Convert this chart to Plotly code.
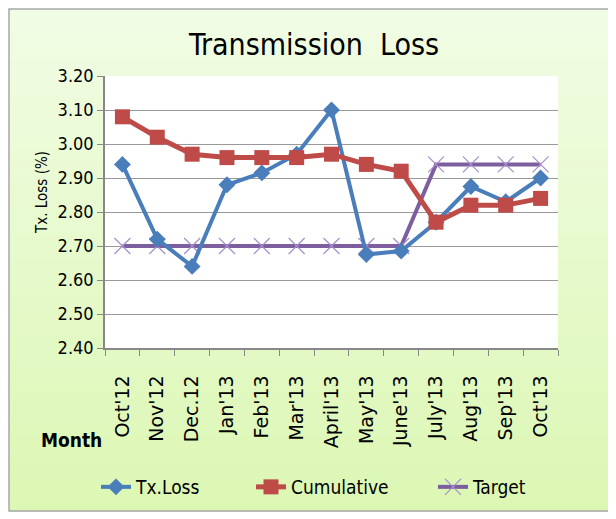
import plotly.graph_objects as go

months = ["Oct'12", "Nov'12", "Dec.12", "Jan'13", "Feb'13", "Mar'13", "April'13",
          "May'13", "June'13", "July'13", "Aug'13", "Sep'13", "Oct'13"]
tx_loss = [2.94, 2.72, 2.64, 2.88, 2.915, 2.97, 3.10, 2.675, 2.685, 2.77, 2.875, 2.83, 2.90]
cumulative = [3.08, 3.02, 2.97, 2.96, 2.96, 2.96, 2.97, 2.94, 2.92, 2.77, 2.82, 2.82, 2.84]
target = [2.70, 2.70, 2.70, 2.70, 2.70, 2.70, 2.70, 2.70, 2.70, 2.94, 2.94, 2.94, 2.94]
y_ticks = [2.40, 2.50, 2.60, 2.70, 2.80, 2.90, 3.00, 3.10, 3.20]

COND = "DejaVu Sans Condensed, Liberation Sans Narrow, sans-serif"
WIDE = "DejaVu Sans, Verdana, sans-serif"

W, H = 616, 519
OFF = 8  # page body margin: figure is drawn 8px right/down in the window

# plot area in window pixels
L, R, T, B = 105, 558, 76, 348
PW, PH = R - L, B - T


def px(x):
    return (x - L) / PW


def py(y):
    return (B - y) / PH


fig = go.Figure()
fig.add_trace(go.Scatter(
    x=months, y=target, name="Target", mode="lines+markers", legend="legend3",
    line=dict(color="#7d5fa0", width=4),
    marker=dict(symbol="x-thin", size=16, line=dict(color="#a48fcc", width=1.2))))
fig.add_trace(go.Scatter(
    x=months, y=tx_loss, name="Tx.Loss", mode="lines+markers", legend="legend",
    line=dict(color="#4a7ebb", width=4),
    marker=dict(symbol="diamond", size=13, color="#4a7ebb")))
fig.add_trace(go.Scatter(
    x=months, y=cumulative, name="Cumulative", mode="lines+markers", legend="legend2",
    line=dict(color="#be4b48", width=5),
    marker=dict(symbol="square", size=15, color="#be4b48")))

# gradient background (inside the outer frame) via stacked bands
FX0, FX1, FY0, FY1 = 9, 610, 9, 511
shapes = []
n = 40
top = (241, 252, 228)
bot = (220, 247, 180)
for i in range(n):
    t = i / (n - 1)
    c = tuple(int(round(top[k] + (bot[k] - top[k]) * t)) for k in range(3))
    ya = FY0 + (FY1 - FY0) * i / n
    yb = FY0 + (FY1 - FY0) * (i + 1) / n
    shapes.append(dict(type="rect", xref="paper", yref="paper", layer="below",
                       x0=px(FX0), x1=px(FX1), y0=py(yb + 0.5), y1=py(ya),
                       fillcolor="rgb(%d,%d,%d)" % c, line=dict(width=0)))
shapes.append(dict(type="rect", xref="paper", yref="paper", layer="below",
                   x0=0, x1=1, y0=0, y1=1, fillcolor="white", line=dict(width=0)))
shapes.append(dict(type="rect", xref="paper", yref="paper", layer="above",
                   x0=px(FX0), x1=px(FX1), y0=py(FY1), y1=py(FY0),
                   line=dict(color="#a8a8a8", width=1.5)))

leg_common = dict(orientation="h", yanchor="middle", y=py(487), xanchor="left",
                  font=dict(family=COND, size=19, color="black"),
                  bgcolor="rgba(0,0,0,0)", itemwidth=30, borderwidth=0)

fig.update_layout(
    width=W, height=H,
    margin=dict(l=L - OFF, r=W - (R - OFF), t=T - OFF, b=H - (B - OFF), autoexpand=False),
    paper_bgcolor="white",
    plot_bgcolor="rgba(0,0,0,0)",
    shapes=shapes,
    title=dict(text="Transmission  Loss", x=(314 - OFF) / W, xanchor="center", xref="container",
               y=1 - (44 - OFF) / H, yanchor="middle", yref="container",
               font=dict(family=COND, size=30, color="black")),
    showlegend=True,
    legend=dict(leg_common, x=px(96)),
    legend2=dict(leg_common, x=px(251)),
    legend3=dict(leg_common, x=px(433)),
    annotations=[
        dict(text="<b>Month</b>", xref="paper", yref="paper", x=px(104), y=py(440),
             xanchor="right", yanchor="middle", showarrow=False,
             font=dict(family=COND, size=19, color="black")),
        dict(text="Tx. Loss (%)", xref="paper", yref="paper", x=px(42), y=py(193),
             xanchor="center", yanchor="middle", textangle=-90, showarrow=False,
             font=dict(family=COND, size=15, color="black")),
    ],
)
fig.update_xaxes(
    type="category", tickangle=-90, tickson="boundaries", ticks="outside", ticklen=6,
    tickcolor="#888888", showline=True, linecolor="#888888", linewidth=1.5,
    showgrid=False, tickfont=dict(family=WIDE, size=19, color="black"),
    ticklabelstandoff=18, range=[-0.5, 12.5])
fig.update_yaxes(
    range=[2.40, 3.20], tickvals=y_ticks, tickformat=".2f", ticks="outside", ticklen=6,
    tickcolor="#888888", showline=True, linecolor="#888888", linewidth=1.5,
    showgrid=True, gridcolor="#999999", gridwidth=1.2, zeroline=False,
    tickfont=dict(family=COND, size=18, color="black"))

fig.write_html("out.html")
